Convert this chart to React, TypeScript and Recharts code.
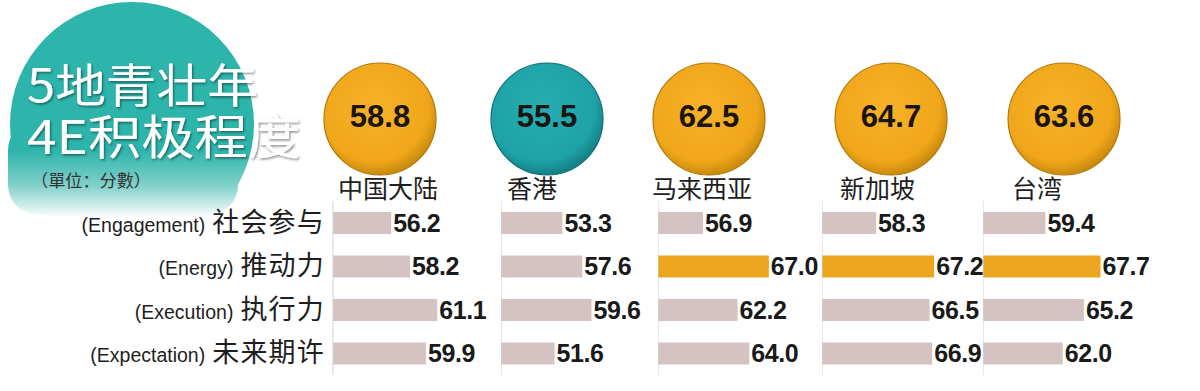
import React from 'react';
import { BarChart, Bar, XAxis, YAxis, Cell, LabelList, ReferenceLine } from 'recharts';

// ---- data ----
const dimensionEn = ['(Engagement)', '(Energy)', '(Execution)', '(Expectation)'];
const dimensionZh = ['社会参与', '推动力', '执行力', '未来期许'];
const regions = ['中国大陆', '香港', '马来西亚', '新加坡', '台湾'];
const overallScores = [58.8, 55.5, 62.5, 64.7, 63.6];
const chinaMainland = [56.2, 58.2, 61.1, 59.9];
const hongKong = [53.3, 57.6, 59.6, 51.6];
const malaysia = [56.9, 67.0, 62.2, 64.0];
const singapore = [58.3, 67.2, 66.5, 66.9];
const taiwan = [59.4, 67.7, 65.2, 62.0];
const highlighted = [
  [false, false, false, false],
  [false, false, false, false],
  [false, true, false, false],
  [false, true, false, false],
  [false, true, false, false],
];
const badgeLow = [false, true, false, false, false];

// ---- layout / style ----
const CJK = '"Noto Sans CJK SC", "Noto Sans", sans-serif';
const NUM = '"Liberation Sans", Arial, sans-serif';
const GRAY_BAR = '#d5c3c3';
const ORANGE_BAR = '#eca51f';
const chartTop = 201;
const chartHeight = 174;
const panelAxisX = [333, 501, 658, 822, 983];
const panelPlotWidth = [169, 157, 163, 163, 166];
const panelDomain: [number, number][] = [[50, 68], [40, 74], [50, 75], [50, 75], [50, 75]];
const badgeX = [380, 547, 709, 891, 1064];
const badgeY = 119;
const badgeR = 56;
const labelX = [338, 507, 652, 840, 1012];
const series = [chinaMainland, hongKong, malaysia, singapore, taiwan];

const RowTick = (props: any) => {
  const { x, y, payload } = props;
  const i = payload.index;
  return (
    <text x={x} y={y + 9} textAnchor="end" fill="#1e1e1e">
      <tspan fontFamily={NUM} fontSize={19.5}>{dimensionEn[i]}</tspan>
      <tspan fontFamily={CJK} fontSize={27} dx={7} letterSpacing={1.2}>{dimensionZh[i]}</tspan>
    </text>
  );
};

function Panel({ idx }: { idx: number }) {
  const first = idx === 0;
  const yWidth = first ? panelAxisX[0] : 0;
  const left = first ? 0 : panelAxisX[idx];
  const marginRight = 70;
  const width = yWidth + panelPlotWidth[idx] + marginRight;
  const rows = dimensionZh.map((zh, i) => ({
    name: zh,
    value: series[idx][i],
    hl: highlighted[idx][i],
  }));
  return (
    <div style={{ position: 'absolute', left, top: chartTop, width, height: chartHeight }}>
      <BarChart
        width={width}
        height={chartHeight}
        data={rows}
        layout="vertical"
        margin={{ top: 0, right: marginRight, bottom: 0, left: 0 }}
        barCategoryGap={0}
      >
        <XAxis type="number" domain={panelDomain[idx]} hide allowDataOverflow />
        <YAxis
          type="category"
          dataKey="name"
          hide={!first}
          width={yWidth}
          axisLine={false}
          tickLine={false}
          tick={<RowTick />}
          interval={0}
        />
        <ReferenceLine x={panelDomain[idx][0]} stroke="#d2d2d2" strokeWidth={1} />
        <Bar dataKey="value" barSize={22} isAnimationActive={false}>
          {rows.map((r, i) => (
            <Cell key={i} fill={r.hl ? ORANGE_BAR : GRAY_BAR} />
          ))}
          <LabelList
            dataKey="value"
            position="right"
            offset={2}
            formatter={(v: any) => Number(v).toFixed(1)}
            fill="#1a1a1a"
            fontSize={25}
            fontWeight="bold"
            fontFamily={NUM}
            letterSpacing={-0.4}
          />
        </Bar>
      </BarChart>
    </div>
  );
}

function Overlay() {
  return (
    <svg width={1200} height={391} style={{ position: 'absolute', left: 0, top: 0 }}>
      <defs>
        <linearGradient id="titleGrad" x1="0" y1="0" x2="0" y2="391" gradientUnits="userSpaceOnUse">
          <stop offset="0" stopColor="#2db4ab" />
          <stop offset={150 / 391} stopColor="#2db4ab" />
          <stop offset={185 / 391} stopColor="#7fd0c9" />
          <stop offset={215 / 391} stopColor="#f4fbfa" />
        </linearGradient>
        <clipPath id="titleClip">
          <rect x={0} y={0} width={300} height={216} />
        </clipPath>
        <filter id="titleShadow" x="-10%" y="-20%" width="120%" height="150%">
          <feDropShadow dx={1.2} dy={1.5} stdDeviation={1.2} floodColor="#000000" floodOpacity={0.45} />
        </filter>
        <radialGradient id="orangeGrad" cx="0.45" cy="0.4" r="0.6">
          <stop offset="0" stopColor="#f7b22a" />
          <stop offset="0.8" stopColor="#f0a61a" />
          <stop offset="1" stopColor="#c98a0e" />
        </radialGradient>
        <radialGradient id="tealGrad" cx="0.45" cy="0.4" r="0.6">
          <stop offset="0" stopColor="#25adb2" />
          <stop offset="0.8" stopColor="#1ea2a7" />
          <stop offset="1" stopColor="#137f84" />
        </radialGradient>
      </defs>
      <g clipPath="url(#titleClip)">
        <circle cx={132} cy={124} r={122} fill="url(#titleGrad)" />
        <rect x={8} y={120} width={230} height={95} rx={30} fill="url(#titleGrad)" />
      </g>
      <g filter="url(#titleShadow)">
        <text x={27} y={102} fill="#ffffff" fontFamily={CJK} fontSize={46} textLength={231} lengthAdjust="spacingAndGlyphs">
          5地青壮年
        </text>
        <text x={27} y={154} fill="#ffffff" fontFamily={CJK} fontSize={47} textLength={274} lengthAdjust="spacingAndGlyphs">
          4E积极程度
        </text>
      </g>
      <text x={31} y={187} fill="#333333" fontFamily={CJK} fontSize={17} textLength={120} lengthAdjust="spacingAndGlyphs">
        （單位：分數）
      </text>
      {regions.map((name, i) => (
        <g key={name}>
          <circle
            cx={badgeX[i]}
            cy={badgeY}
            r={badgeR}
            fill={badgeLow[i] ? 'url(#tealGrad)' : 'url(#orangeGrad)'}
            stroke={badgeLow[i] ? '#0f7075' : '#b27806'}
            strokeWidth={1.2}
          />
          <text
            x={badgeX[i]}
            y={badgeY + 8}
            textAnchor="middle"
            fill="#1b1410"
            fontFamily={NUM}
            fontWeight="bold"
            fontSize={31}
          >
            {overallScores[i].toFixed(1)}
          </text>
          <text x={labelX[i]} y={198} fill="#1e1e1e" fontFamily={CJK} fontSize={25}>
            {name}
          </text>
        </g>
      ))}
    </svg>
  );
}

export default function App() {
  return (
    <div style={{ position: 'absolute', left: 0, top: 0, width: 1200, height: 391, background: '#ffffff', overflow: 'hidden' }}>
      <Overlay />
      {regions.map((_, i) => (
        <Panel key={i} idx={i} />
      ))}
    </div>
  );
}
